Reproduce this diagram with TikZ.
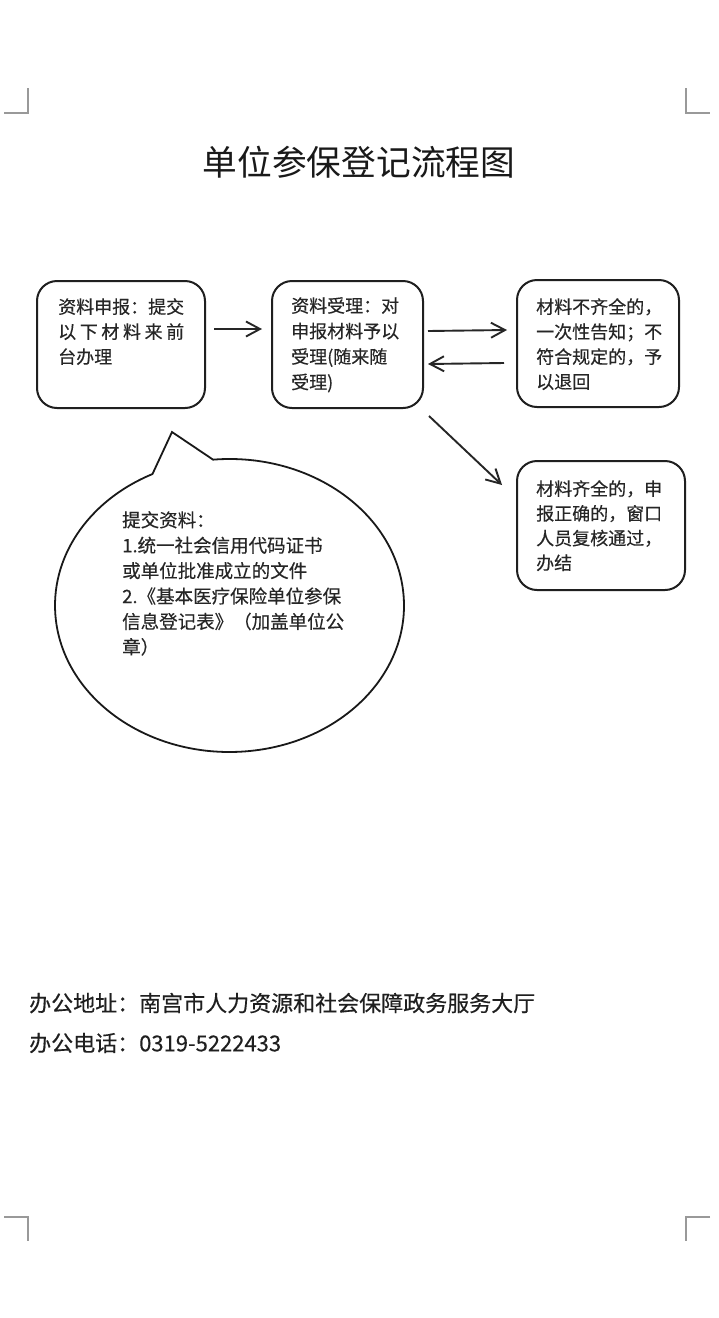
\documentclass[tikz,border=0pt]{standalone}
\usepackage{fontspec}
\setmainfont{Noto Sans CJK SC}[FakeBold=0.3]
\newfontfamily\titlefont{Noto Sans CJK SC}
\usetikzlibrary{arrows.meta}
\begin{document}
\begin{tikzpicture}[x=1pt,y=1pt,
  box/.style={draw=black!88, line width=2pt, rounded corners=20pt, inner sep=0pt},
  txt/.style={anchor=north west, inner sep=0pt, align=left, text=black!85},
  conn/.style={draw=black!85, line width=1.9pt, -{Straight Barb[length=14pt,width=15pt]}},
  cornermark/.style={draw=black!40, line width=1.2pt}]
\useasboundingbox (0,0) rectangle (719,-1318);
\fill[white] (0,0) rectangle (719,-1318);
% corner marks
\coordinate (tl1) at (28,-88); \coordinate (tl2) at (28,-113); \coordinate (tl3) at (4,-113);
\draw[cornermark] (tl1) -- (tl2) -- (tl3);
\coordinate (tr1) at (686,-88); \coordinate (tr2) at (686,-113); \coordinate (tr3) at (710,-113);
\draw[cornermark] (tr1) -- (tr2) -- (tr3);
\coordinate (bl1) at (4,-1217); \coordinate (bl2) at (28,-1217); \coordinate (bl3) at (28,-1241);
\draw[cornermark] (bl1) -- (bl2) -- (bl3);
\coordinate (br1) at (710,-1217); \coordinate (br2) at (686,-1217); \coordinate (br3) at (686,-1241);
\draw[cornermark] (br1) -- (br2) -- (br3);
% title
\node[inner sep=0pt, text=black!90, font=\titlefont\fontsize{34.7pt}{40pt}\selectfont] (title) at (359,-162) {单位参保登记流程图};
% boxes
\node[box, minimum width=168pt, minimum height=127pt] (b1) at (121,-344.5) {};
\node[box, minimum width=151pt, minimum height=127pt] (b2) at (347.5,-344.5) {};
\node[box, minimum width=162pt, minimum height=127pt] (b3) at (598,-343.5) {};
\node[box, minimum width=168pt, minimum height=129pt] (b4) at (601,-525.5) {};
% box texts
\node[txt, font=\fontsize{18pt}{25pt}\selectfont] (t1) at (58,-298) {资料申报：提交\\\makebox[7em][s]{以\hfill 下\hfill 材\hfill 料\hfill 来\hfill 前}\\台办理};
\node[txt, font=\fontsize{18pt}{25.5pt}\selectfont] (t2) at (291,-297) {资料受理：对\\申报材料予以\\受理(随来随\\受理)};
\node[txt, font=\fontsize{18pt}{25pt}\selectfont] (t3) at (536,-298) {材料不齐全的，\\一次性告知；不\\符合规定的，予\\以退回};
\node[txt, font=\fontsize{18pt}{24.7pt}\selectfont] (t4) at (536,-480) {材料齐全的，申\\报正确的，窗口\\人员复核通过，\\办结};
% connectors
\draw[conn] ([xshift=8pt,yshift=15.5pt]b1.east) -- ([xshift=-9pt,yshift=15.5pt]b2.west);
\draw[conn] ([xshift=4pt,yshift=13.5pt]b2.east) -- ([xshift=-9pt,yshift=13.5pt]b3.west);
\draw[conn] ([xshift=-12pt,yshift=-19.5pt]b3.west) -- ([xshift=4pt,yshift=-19.5pt]b2.east);
\draw[conn] ([shift={(5pt,-7pt)}]b2.south east) -- ([shift={(-14pt,-25pt)}]b4.north west);
% callout
\coordinate (cc) at (229.5,-605.5);
\coordinate (tip) at (172,-432);
\draw[draw=black!90, line width=1.8pt, line join=miter]
  (213.08,-459.65) arc[start angle=95.4, end angle=-243.8, x radius=174.5pt, y radius=146.5pt]
  -- (tip) -- cycle;
\node[txt, font=\fontsize{18.5pt}{25.4pt}\selectfont] (t5) at (122,-511) {提交资料：\\1.统一社会信用代码证书\\或单位批准成立的文件\\2.《基本医疗保险单位参保\\信息登记表》（加盖单位公\\章）};
% footer
\node[anchor=west, inner sep=0pt, text=black!88, font=\fontsize{22pt}{26pt}\selectfont] (addr) at (29,-1003) {办公地址：南宫市人力资源和社会保障政务服务大厅};
\node[anchor=west, inner sep=0pt, text=black!88, font=\fontsize{22pt}{26pt}\selectfont] (tel) at (29,-1043) {办公电话：0319-5222433};
\end{tikzpicture}
\end{document}
